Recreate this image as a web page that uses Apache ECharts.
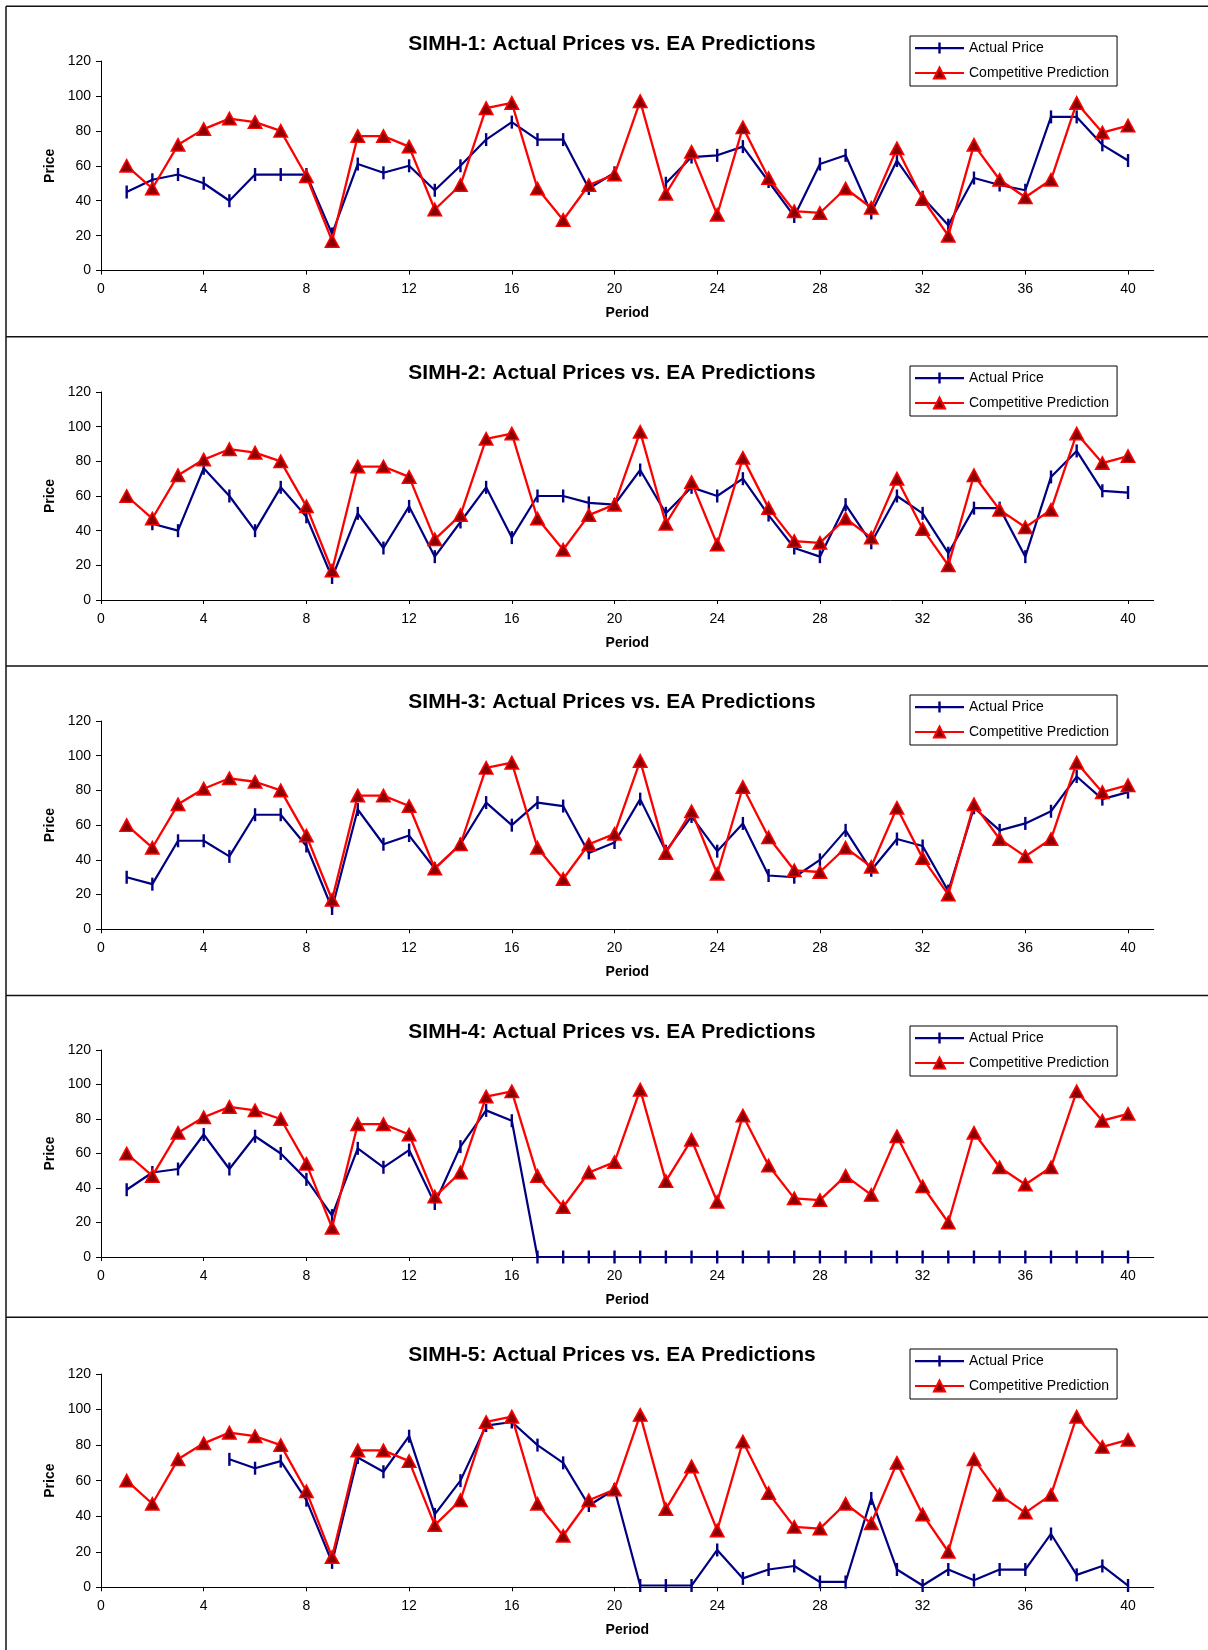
<!DOCTYPE html>
<html>
<head>
<meta charset="utf-8">
<script src="https://cdn.jsdelivr.net/npm/echarts@6/dist/echarts.min.js"></script>
<style>
html,body{margin:0;padding:0;background:#fff;}
#c{width:1208px;height:1650px;}
</style>
</head>
<body>
<div id="c"></div>
<script>
// ---------------- DATA ----------------
const periods = [1,2,3,4,5,6,7,8,9,10,11,12,13,14,15,16,17,18,19,20,21,22,23,24,25,26,27,28,29,30,31,32,33,34,35,36,37,38,39,40];
const xTickLabels = [0,4,8,12,16,20,24,28,32,36,40];
const yTickLabels = [0,20,40,60,80,100,120];
const titles = [
  "SIMH-1: Actual Prices vs. EA Predictions",
  "SIMH-2: Actual Prices vs. EA Predictions",
  "SIMH-3: Actual Prices vs. EA Predictions",
  "SIMH-4: Actual Prices vs. EA Predictions",
  "SIMH-5: Actual Prices vs. EA Predictions"
];
const seriesNames = ["Actual Price", "Competitive Prediction"];
const competitivePrediction = [60,47,72,81,87,85,80,54,17,77,77,71,35,49,93,96,47,29,49,55,97,44,68,32,82,53,34,33,47,36,70,41,20,72,52,42,52,96,79,83];
const simh1Actual = [45,52,55,50,40,55,55,55,21,61,56,60,46,60,75,85,75,75,47,56,null,50,65,66,71,51,31,61,66,33,63,42,26,53,49,46,88,88,72,63];
const simh2Actual = [null,44,40,76,60,40,65,48,13,50,30,54,25,45,65,36,60,60,56,55,75,50,65,60,70,49,30,25,55,33,60,50,27,53,53,25,71,86,63,62];
const simh3Actual = [30,26,51,51,42,66,66,48,12,69,49,54,35,49,73,60,73,71,44,50,75,45,65,45,61,31,30,40,57,34,52,48,22,70,57,61,68,88,75,79];
const simh4Actual = [39,49,51,71,51,70,60,45,24,63,52,62,31,64,85,79,0,0,0,0,0,0,0,0,0,0,0,0,0,0,0,0,0,0,0,0,0,0,0,0];
const simh5Actual = [null,null,null,null,72,67,71,49,14,73,65,85,41,60,91,93,80,70,46,55,1,1,1,21,5,10,12,3,3,50,10,1,10,4,10,10,30,7,12,1];
const actualSets = [simh1Actual, simh2Actual, simh3Actual, simh4Actual, simh5Actual];

// ---------------- LAYOUT ----------------
const FONT = '"Liberation Sans", Arial, Helvetica, sans-serif';
const panelLayout = [
  {plotTop: 61,   plotBottom: 270.6, titleMid: 42,     legendTop: 36},
  {plotTop: 392,  plotBottom: 600,   titleMid: 371.7,  legendTop: 366},
  {plotTop: 721,  plotBottom: 929.3, titleMid: 700.5,  legendTop: 695},
  {plotTop: 1050, plotBottom: 1257,  titleMid: 1030.5, legendTop: 1026},
  {plotTop: 1374, plotBottom: 1587.3,titleMid: 1352.8, legendTop: 1349}
];
const separators = [336.7, 666, 995.5, 1317.3];
const plotLeft = 101, plotRightEdge = 1153.7, W = 1208, H = 1650;

const barPath = 'path://M0,0H2V12H0Z';
// legend icon for "Actual Price": line with a vertical tick in the middle
const actualLegendIcon = 'path://M0,6H23.3V1.5H25.7V6H49V8.2H25.7V12.5H23.3V8.2H0Z';

const option = {
  animation: false,
  backgroundColor: '#ffffff',
  textStyle: {fontFamily: FONT},
  title: [], legend: [], grid: [], xAxis: [], yAxis: [], series: [],
  graphic: []
};

panelLayout.forEach((L, i) => {
  option.title.push({
    text: titles[i],
    left: 612, top: L.titleMid - 8.5, textAlign: 'center', padding: 0,
    textStyle: {fontFamily: FONT, fontSize: 21, fontWeight: 'bold', color: '#000'}
  });
  option.legend.push({
    data: [{name: seriesNames[0], icon: actualLegendIcon}, {name: seriesNames[1]}],
    orient: 'vertical',
    left: 910, top: L.legendTop,
    itemWidth: 49, itemHeight: 14, itemGap: 11, itemTextGap: 4,
    padding: [5, 8, 6, 4],
    backgroundColor: '#fff', borderColor: '#000', borderWidth: 1,
    selectedMode: false,
    textStyle: {fontFamily: FONT, fontSize: 14, color: '#000'}
  });
  option.grid.push({
    left: plotLeft, width: plotRightEdge - plotLeft,
    top: L.plotTop, height: L.plotBottom - L.plotTop,
    containLabel: false
  });
  option.xAxis.push({
    type: 'value', gridIndex: i, min: 0, max: 41, interval: 4,
    name: 'Period', nameLocation: 'middle', nameGap: 36,
    nameTextStyle: {fontFamily: FONT, fontSize: 14, fontWeight: 'bold', color: '#000'},
    axisLine: {show: true, onZero: false, lineStyle: {color: '#000', width: 1}},
    axisTick: {show: true, length: 4, customValues: xTickLabels, lineStyle: {color: '#000'}},
    axisLabel: {customValues: xTickLabels, margin: 12, fontFamily: FONT, fontSize: 14, color: '#000'},
    splitLine: {show: false}
  });
  option.yAxis.push({
    type: 'value', gridIndex: i, min: 0, max: 120, interval: 20,
    name: 'Price', nameLocation: 'middle', nameGap: 42, nameRotate: 90,
    nameTextStyle: {fontFamily: FONT, fontSize: 14, fontWeight: 'bold', color: '#000'},
    axisLine: {show: true, lineStyle: {color: '#000', width: 1}},
    axisTick: {show: true, length: 5, lineStyle: {color: '#000'}},
    axisLabel: {margin: 10, fontFamily: FONT, fontSize: 14, color: '#000'},
    splitLine: {show: false}
  });
  option.series.push({
    type: 'line', name: seriesNames[0], xAxisIndex: i, yAxisIndex: i,
    data: periods.map((p, k) => [p, actualSets[i][k] === null ? '-' : actualSets[i][k]]),
    symbol: barPath, symbolSize: [2.4, 13], showSymbol: true, showAllSymbol: true,
    connectNulls: false,
    lineStyle: {color: '#000080', width: 2.2},
    itemStyle: {color: '#000080'},
    z: 3
  });
  option.series.push({
    type: 'line', name: seriesNames[1], xAxisIndex: i, yAxisIndex: i,
    data: periods.map((p, k) => [p, competitivePrediction[k]]),
    symbol: 'triangle', symbolSize: [13.5, 12.5], showSymbol: true, showAllSymbol: true,
    lineStyle: {color: '#ff0000', width: 2.3},
    itemStyle: {color: '#8b0000', borderColor: '#ff0000', borderWidth: 1.5},
    z: 4
  });
});

// frame lines
option.graphic.push({type: 'line', silent: true, shape: {x1: 6, y1: 6.3, x2: W, y2: 6.3}, style: {stroke: '#111', lineWidth: 1.5}});
option.graphic.push({type: 'line', silent: true, shape: {x1: 6, y1: 6.3, x2: 6, y2: H}, style: {stroke: '#111', lineWidth: 1.5}});
separators.forEach(y => {
  option.graphic.push({type: 'line', silent: true, shape: {x1: 6, y1: y, x2: W, y2: y}, style: {stroke: '#111', lineWidth: 1.5}});
});

const chart = echarts.init(document.getElementById('c'), null, {renderer: 'canvas', width: W, height: H});
chart.setOption(option);
</script>
</body>
</html>
